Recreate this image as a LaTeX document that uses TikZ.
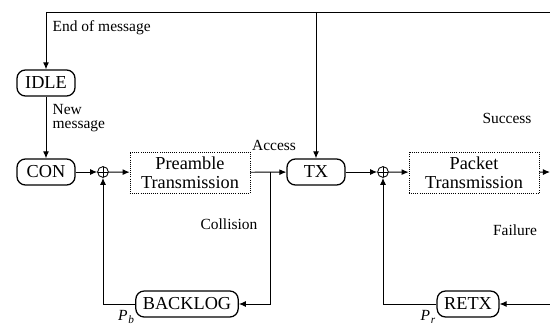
\documentclass[tikz,border=0pt]{standalone}
\usepackage{fontspec}
\setmainfont{Liberation Serif}
\usepackage{tikz}
\usetikzlibrary{arrows.meta,positioning}

\newcommand{\prob}[1]{\textit{P}\kern0.5pt\raisebox{-2.5pt}{\fontsize{8}{8}\selectfont\textit{#1}}}

\begin{document}
\begin{tikzpicture}[
    x=0.025cm, y=-0.025cm,
    every node/.style={font=\fontsize{11}{11}\selectfont},
    state/.style={draw,rounded corners=6pt,line width=0.9pt,minimum width=1.45cm,
                  minimum height=0.65cm,inner xsep=5pt,font=\fontsize{13}{14}\selectfont},
    blk/.style={draw,densely dotted,line width=0.5pt,minimum height=0.98cm,
                align=center,font=\fontsize{13}{13.5}\selectfont},
    sum/.style={draw,circle,line width=0.6pt,minimum size=0.27cm,inner sep=0pt,
                path picture={\draw[line width=0.6pt]
                  (path picture bounding box.north) -- (path picture bounding box.south)
                  (path picture bounding box.west) -- (path picture bounding box.east);}},
    line/.style={-{Latex[length=5pt,width=4.2pt]},line width=0.7pt},
    fline/.style={line width=0.7pt},
    label/.style={font=\fontsize{11}{10.5}\selectfont,align=left,inner sep=1pt}
]
\useasboundingbox[fill=white] (0,0) rectangle (550,327);

% Frame coordinates
\coordinate (topL) at (46,12);
\coordinate (topTX) at (316,12);
\coordinate (topR) at (550,12);
\coordinate (jn) at (270,172);
\coordinate (out) at (550,172);
\coordinate (in) at (550,304);

% States
\node[state] (IDLE) at (46,83) {IDLE};
\node[state] (CON) at (46,172) {CON};
\node[state] (TX) at (316,172) {TX};
\node[state] (BACK) at (187,304) {BACKLOG};
\node[state] (RETX) at (468,304) {RETX};

% Adders
\node[sum] (S1) at (103,172) {};
\node[sum] (S2) at (383,172) {};

% Transmission blocks
\node[blk,minimum width=3.0cm] (PRE) at (190,172.5) {Preamble\\Transmission};
\node[blk,minimum width=3.25cm] (PKT) at (474,172.5) {Packet\\Transmission};

% Connectors
\draw[fline] (topR) -- (topL);
\draw[line] (topL) -- (IDLE);
\draw[line] (IDLE) -- (CON);
\draw[line] (CON) -- (S1);
\draw[line] (S1) -- (PRE);
\draw[line] (PRE) -- (TX);
\draw[line] (jn) |- (BACK);
\draw[line] (BACK) -| (S1);
\draw[line] (topTX) -- (TX);
\draw[line] (TX) -- (S2);
\draw[line] (S2) -- (PKT);
\draw[line] (PKT) -- (out);
\draw[line] (in) -- (RETX);
\draw[line] (RETX) -| (S2);

% Labels
\node[label,anchor=west] (lEnd) at (51,28) {End of message};
\node[label,anchor=west] (lNew) at (51,118) {New\\message};
\node[label] (lAcc) at (274,145) {Access};
\node[label] (lCol) at (229,224) {Collision};
\node[label] (lSuc) at (507,118) {Success};
\node[label] (lFail) at (515,230) {Failure};
\node[label] (lPb) at (126,317) {\prob{b}};
\node[label] (lPr) at (428,317) {\prob{r}};

\end{tikzpicture}
\end{document}
